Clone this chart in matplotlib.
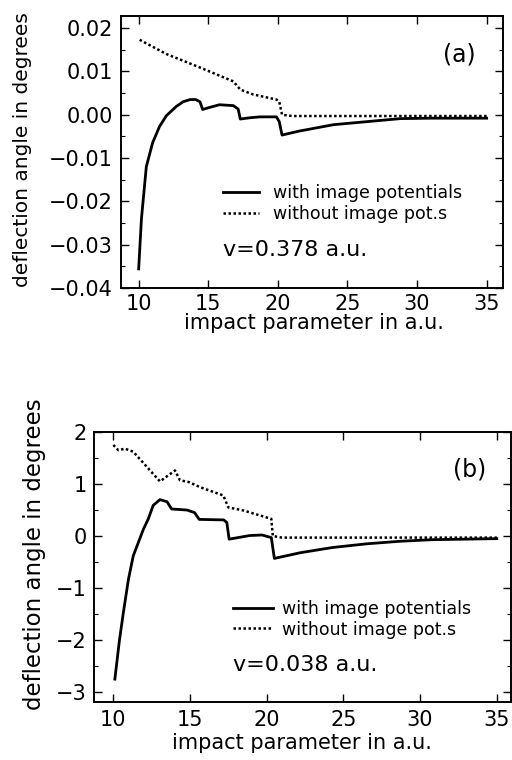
import matplotlib
matplotlib.use("Agg")
import matplotlib.pyplot as plt
from matplotlib.ticker import MultipleLocator

# panel (a): v = 0.378 a.u.
xa_with = [10.0, 10.2, 10.55, 11.0, 11.5, 12.0, 12.7, 13.2, 13.7, 14.1, 14.4, 14.6, 15.0, 15.8, 16.8, 17.15, 17.3,
           18.0, 18.7, 19.9, 20.1, 20.3, 21.5, 24.0, 26.4, 28.8, 31.0, 35.0]
ya_with = [-0.0356, -0.024, -0.012, -0.0065, -0.0027, -0.0002, 0.0019, 0.0030, 0.0035, 0.0035, 0.0030, 0.0012, 0.0016,
           0.0023, 0.0021, 0.0013, -0.0010, -0.0007, -0.0005, -0.0005, -0.0016, -0.0047, -0.0038, -0.0023, -0.0016,
           -0.0009, -0.0008, -0.0008]
xa_without = [10.07, 12.0, 14.4, 16.8, 17.3, 18.2, 19.9, 20.1, 20.3, 21.0, 35.0]
ya_without = [0.0173, 0.0140, 0.0109, 0.0077, 0.0058, 0.0047, 0.0035, 0.0030, 0.0000, -0.0003, -0.0003]

# panel (b): v = 0.038 a.u.
xb_with = [10.1, 10.4, 10.65, 10.98, 11.3, 11.96, 12.28, 12.6, 13.04, 13.5, 13.8, 14.8, 15.3, 15.6, 17.2, 17.4, 17.55,
           18.9, 19.7, 20.3, 20.5, 22.2, 24.3, 26.5, 28.7, 30.8, 35.0]
yb_with = [-2.75, -2.0, -1.48, -0.84, -0.38, 0.13, 0.33, 0.59, 0.70, 0.66, 0.52, 0.50, 0.45, 0.32, 0.31, 0.26, -0.06,
           0.01, 0.02, -0.03, -0.43, -0.32, -0.22, -0.15, -0.10, -0.07, -0.05]
xb_without = [10.0, 10.33, 10.76, 11.3, 13.04, 14.02, 14.35, 14.9, 15.65, 17.17, 17.5, 18.5, 20.3, 20.4, 21.0, 35.0]
yb_without = [1.75, 1.65, 1.68, 1.62, 1.05, 1.26, 1.07, 1.04, 0.94, 0.78, 0.55, 0.49, 0.33, 0.0, -0.03, -0.03]

xticks = [10, 15, 20, 25, 30, 35]
ya_ticks = [-0.04, -0.03, -0.02, -0.01, 0.0, 0.01, 0.02]
ya_labels = ["\u22120.04", "\u22120.03", "\u22120.02", "\u22120.01", "0.00", "0.01", "0.02"]
yb_ticks = [-3, -2, -1, 0, 1, 2]
yb_labels = ["\u22123", "\u22122", "\u22121", "0", "1", "2"]

plt.rcParams["font.family"] = "DejaVu Sans"

fig = plt.figure(figsize=(5.12, 7.6), dpi=100)
ax1 = fig.add_axes([0.2363, 0.6211, 0.746, 0.3579])
ax2 = fig.add_axes([0.1836, 0.0763, 0.8145, 0.3553])


def style(ax, ypad, xpad):
    ax.tick_params(which="both", direction="in", top=True, right=True, labelsize=15)
    ax.tick_params(which="major", length=6, width=1)
    ax.tick_params(which="minor", length=3, width=0.8)
    ax.tick_params(axis="y", pad=ypad)
    ax.tick_params(axis="x", pad=xpad)
    for s in ax.spines.values():
        s.set_linewidth(1.4)


ax1.plot(xa_with, ya_with, color="black", lw=2.0, label="with image potentials")
ax1.plot(xa_without, ya_without, color="black", lw=1.8, ls=(0, (1, 1)), label="without image pot.s")
ax1.set_xlim(8.73, 36.17)
ax1.set_ylim(-0.04, 0.0228)
ax1.set_yticks(ya_ticks)
ax1.set_yticklabels(ya_labels)
ax1.set_xticks(xticks)
ax1.yaxis.set_minor_locator(MultipleLocator(0.005))
style(ax1, 6, 4)
ax1.set_xlabel("impact parameter in a.u.", fontsize=15, va="center")
ax1.xaxis.set_label_coords(0.505, -0.129)
ax1.set_ylabel("deflection angle in degrees", fontsize=14.5, va="center")
ax1.yaxis.set_label_coords(-0.259, 0.507)
ax1.legend(loc="upper left", bbox_to_anchor=(0.267, 0.382), frameon=False, fontsize=12.5,
           handlelength=2.1, handletextpad=0.8, labelspacing=0.15, borderaxespad=0, borderpad=0)
ax1.text(0.267, 0.14, "v=0.378 a.u.", transform=ax1.transAxes, fontsize=16, va="center")
ax1.text(0.885, 0.857, "(a)", transform=ax1.transAxes, fontsize=17, ha="center", va="center")

ax2.plot(xb_with, yb_with, color="black", lw=2.0, label="with image potentials")
ax2.plot(xb_without, yb_without, color="black", lw=1.8, ls=(0, (1, 1)), label="without image pot.s")
ax2.set_xlim(8.74, 35.93)
ax2.set_ylim(-3.19, 2.0)
ax2.set_yticks(yb_ticks)
ax2.set_yticklabels(yb_labels)
ax2.set_xticks(xticks)
ax2.yaxis.set_minor_locator(MultipleLocator(0.5))
style(ax2, 5, 6)
ax2.set_xlabel("impact parameter in a.u.", fontsize=15, va="center")
ax2.xaxis.set_label_coords(0.499, -0.152)
ax2.set_ylabel("deflection angle in degrees", fontsize=16.5, va="center")
ax2.yaxis.set_label_coords(-0.1415, 0.548)
ax2.legend(loc="upper left", bbox_to_anchor=(0.333, 0.378), frameon=False, fontsize=12.5,
           handlelength=2.3, handletextpad=0.55, labelspacing=0.15, borderaxespad=0, borderpad=0)
ax2.text(0.333, 0.137, "v=0.038 a.u.", transform=ax2.transAxes, fontsize=16, va="center")
ax2.text(0.90, 0.86, "(b)", transform=ax2.transAxes, fontsize=17, ha="center", va="center")

fig.savefig("out.png", dpi=100)
